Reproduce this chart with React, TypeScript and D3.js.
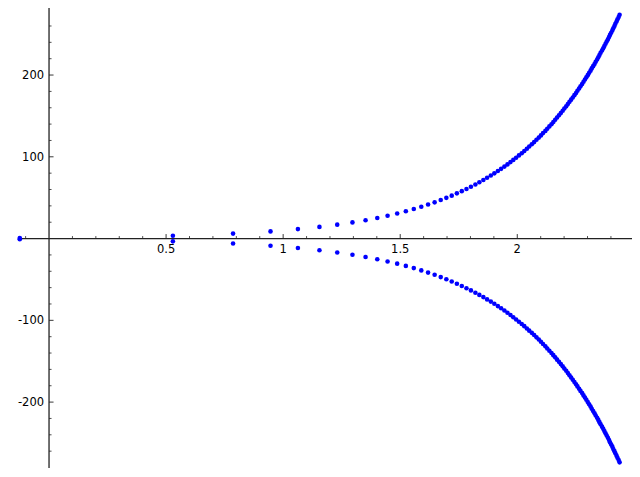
import React from "react";
import * as d3 from "d3";

// Point positions: x position and |y| of each pair (+y and -y drawn)
const pointX = [
  -0.125, 0.529, 0.786, 0.946, 1.063, 1.155, 1.231, 1.296, 1.352, 1.402,
  1.446, 1.487, 1.524, 1.558, 1.590, 1.619, 1.647, 1.673, 1.697, 1.720,
  1.742, 1.763, 1.783, 1.802, 1.821, 1.838, 1.855, 1.871, 1.887, 1.902,
  1.917, 1.931, 1.945, 1.958, 1.971, 1.983, 1.995, 2.007, 2.019, 2.030,
  2.041, 2.051, 2.062, 2.072, 2.082, 2.092, 2.101, 2.110, 2.120, 2.128,
  2.137, 2.146, 2.154, 2.162, 2.170, 2.178, 2.186, 2.194, 2.201, 2.209,
  2.216, 2.223, 2.230, 2.237, 2.244, 2.251, 2.257, 2.264, 2.270, 2.277,
  2.283, 2.289, 2.295, 2.301, 2.307, 2.313, 2.318, 2.324, 2.330, 2.335,
  2.341, 2.346, 2.351, 2.356, 2.362, 2.367, 2.372, 2.377, 2.382, 2.387,
  2.392, 2.396, 2.401, 2.406, 2.410, 2.415, 2.419, 2.424, 2.428, 2.433,
  2.437,
];
const pointY = [
  0.75, 3.4, 6.1, 8.8, 11.6, 14.3, 17.0, 19.8, 22.5, 25.2,
  28.0, 30.7, 33.4, 36.1, 38.9, 41.6, 44.3, 47.1, 49.8, 52.5,
  55.3, 58.0, 60.7, 63.4, 66.2, 68.9, 71.6, 74.4, 77.1, 79.8,
  82.6, 85.3, 88.0, 90.7, 93.5, 96.2, 98.9, 101.7, 104.4, 107.1,
  109.9, 112.6, 115.3, 118.0, 120.8, 123.5, 126.2, 129.0, 131.7, 134.4,
  137.2, 139.9, 142.6, 145.3, 148.1, 150.8, 153.5, 156.3, 159.0, 161.7,
  164.5, 167.2, 169.9, 172.6, 175.4, 178.1, 180.8, 183.6, 186.3, 189.0,
  191.8, 194.5, 197.2, 199.9, 202.7, 205.4, 208.1, 210.9, 213.6, 216.3,
  219.1, 221.8, 224.5, 227.2, 230.0, 232.7, 235.4, 238.2, 240.9, 243.6,
  246.4, 249.1, 251.8, 254.5, 257.3, 260.0, 262.7, 265.5, 268.2, 270.9,
  273.7,
];
const signs = [1, -1];

const xMajorTicks = [0.5, 1, 1.5, 2];
const xTickLabels = ["0.5", "1", "1.5", "2"];
const xMinorTicks = [-0.1, 0.1, 0.2, 0.3, 0.4, 0.6, 0.7, 0.8, 0.9, 1.1, 1.2, 1.3, 1.4, 1.6, 1.7, 1.8, 1.9, 2.1, 2.2, 2.3, 2.4];
const yMajorTicks = [200, 100, -100, -200];
const yTickLabels = ["200", "100", "-100", "-200"];
const yMinorTicks = [-260, -240, -220, -180, -160, -140, -120, -80, -60, -40, -20, 20, 40, 60, 80, 120, 140, 160, 180, 220, 240, 260];

const xDomain = [-0.124, 2.49];
const yDomain = [-280.6, 282];

export default function App() {
  const W = 640, H = 477;
  const x = d3.scaleLinear().domain(xDomain).range([20, 632]);
  const y = d3.scaleLinear().domain(yDomain).range([468, 8]);
  const x0 = x(0);
  const y0 = y(0);
  const axisColor = "#222";
  const font = "'DejaVu Sans', sans-serif";

  const points = signs.flatMap((s) => pointX.map((px, i) => ({ x: px, y: s * pointY[i] })));

  return (
    <svg width={W} height={H} style={{ position: "absolute", left: 0, top: 0, background: "#fff" }}>
      {/* axes */}
      <line x1={x.range()[0]} x2={x.range()[1]} y1={y0} y2={y0} stroke={axisColor} strokeWidth={1.3} />
      <line x1={x0} x2={x0} y1={y.range()[1]} y2={y.range()[0]} stroke={axisColor} strokeWidth={1.3} />
      {/* x ticks */}
      {xMinorTicks.map((t) => (
        <line key={"xm" + t} x1={x(t)} x2={x(t)} y1={y0} y2={y0 - 2.5} stroke={axisColor} strokeWidth={0.8} />
      ))}
      {xMajorTicks.map((t, i) => (
        <g key={"xM" + t}>
          <line x1={x(t)} x2={x(t)} y1={y0} y2={y0 - 4.5} stroke={axisColor} strokeWidth={0.9} />
          <text x={x(t)} y={y0 + 14.5} textAnchor="middle" fontFamily={font} fontSize={11.5} fill="#000">
            {xTickLabels[i]}
          </text>
        </g>
      ))}
      {/* y ticks */}
      {yMinorTicks.map((t) => (
        <line key={"ym" + t} x1={x0} x2={x0 + 2.5} y1={y(t)} y2={y(t)} stroke={axisColor} strokeWidth={0.8} />
      ))}
      {yMajorTicks.map((t, i) => (
        <g key={"yM" + t}>
          <line x1={x0} x2={x0 + 4.5} y1={y(t)} y2={y(t)} stroke={axisColor} strokeWidth={0.9} />
          <text x={x0 - 5} y={y(t)} dy="0.35em" textAnchor="end" fontFamily={font} fontSize={11.5} fill="#000">
            {yTickLabels[i]}
          </text>
        </g>
      ))}
      {/* points */}
      {points.map((p, i) => (
        <circle key={i} cx={x(p.x)} cy={y(p.y)} r={2.3} fill="#0000ff" />
      ))}
    </svg>
  );
}
